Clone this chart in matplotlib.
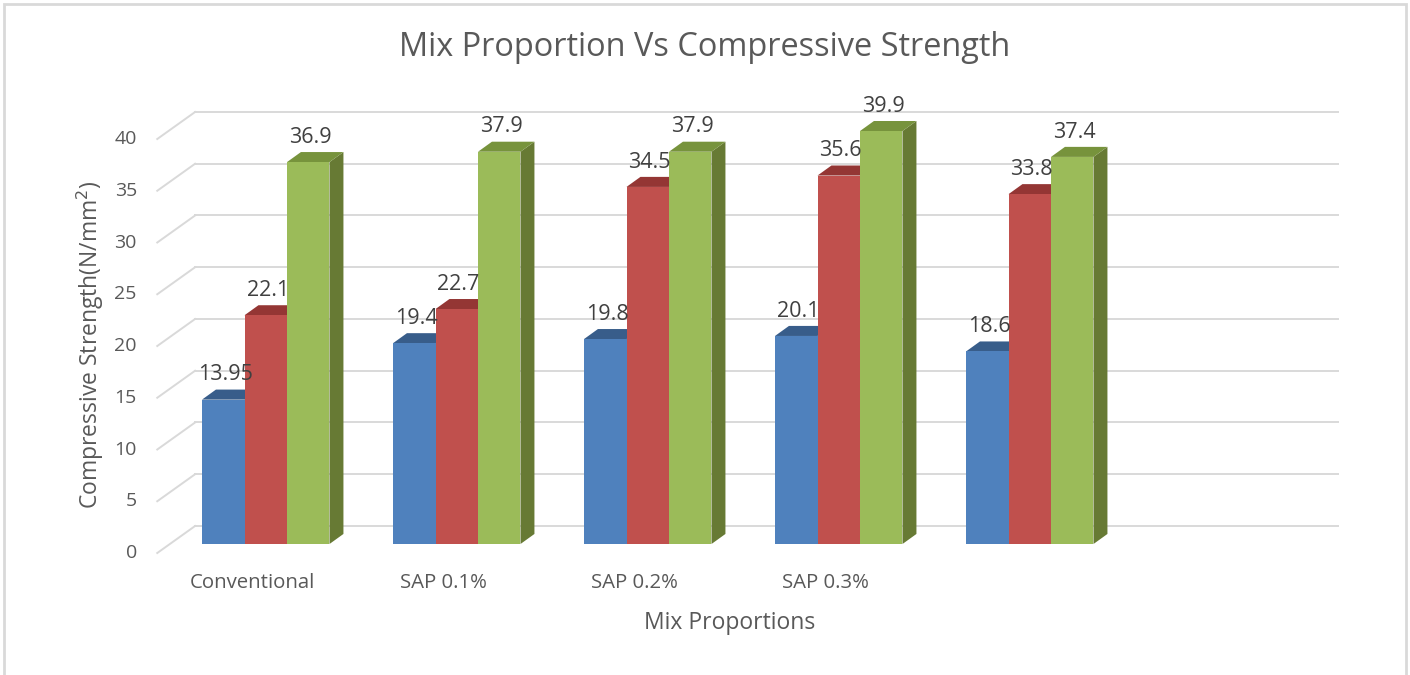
import numpy as np
import matplotlib
matplotlib.use('Agg')
import matplotlib.pyplot as plt
from matplotlib.patches import Polygon, Rectangle

plt.rcParams['font.family'] = ['Open Sans', 'DejaVu Sans']

categories = ['Conventional', 'SAP 0.1%', 'SAP 0.2%', 'SAP 0.3%', '', '']
series_a = [13.95, 19.4, 19.8, 20.1, 18.6]
series_b = [22.1, 22.7, 34.5, 35.6, 33.8]
series_c = [36.9, 37.9, 37.9, 39.9, 37.4]
labels_a = ['13.95', '19.4', '19.8', '20.1', '18.6']
labels_b = ['22.1', '22.7', '34.5', '35.6', '33.8']
labels_c = ['36.9', '37.9', '37.9', '39.9', '37.4']
yticks = [0, 5, 10, 15, 20, 25, 30, 35, 40]

front_cols = ['#4F81BD', '#C0504D', '#9BBB59']
top_cols = ['#385D8A', '#943634', '#77933C']
side_cols = ['#3A5F8B', '#953735', '#677A34']
txt = '#595959'
grid = '#D9D9D9'

W, H = 1410, 675
fig = plt.figure(figsize=(W / 100, H / 100), dpi=100)
ax = fig.add_axes([170.25 / W, 131 / H, 1146 / W, 414 / H])
ax.set_xlim(-0.5, 5.5)
ax.set_ylim(0, 40)
ax.axis('off')

# 3d offsets in data units
bw = 0.2225          # bar width (slots)
ddx, ddy = 0.073, 0.97   # bar depth
bk_dx, bk_dy = 0.13, 1.74   # back wall
fr_dx, fr_dy = -0.068, -0.87  # front floor edge

n = len(categories)
x0, x1 = -0.5, n - 0.5

# gridlines: back wall + left diagonal
for v in yticks:
    ax.plot([x0 + bk_dx, x1 + bk_dx - 0.015], [v + bk_dy, v + bk_dy], color=grid, lw=1.4, clip_on=False, zorder=1)
    ax.plot([x0 + fr_dx, x0 + bk_dx], [v + fr_dy, v + bk_dy], color=grid, lw=1.4, clip_on=False, zorder=1)
    ax.text(x0 - 0.175, v + fr_dy, str(v), ha='right', va='center', fontsize=14, color=txt)

z = 2
for i in range(len(series_a)):
    vals = [series_a[i], series_b[i], series_c[i]]
    labs = [labels_a[i], labels_b[i], labels_c[i]]
    for j in range(3):
        left = i - 1.5 * bw + j * bw
        right = left + bw
        v = vals[j]
        side = [(right, 0), (right + ddx, ddy), (right + ddx, v + ddy), (right, v)]
        top = [(left, v), (right, v), (right + ddx, v + ddy), (left + ddx, v + ddy)]
        ax.add_patch(Polygon(side, closed=True, facecolor=side_cols[j], edgecolor='none', zorder=z, clip_on=False))
        ax.add_patch(Polygon(top, closed=True, facecolor=top_cols[j], edgecolor='none', zorder=z, clip_on=False))
        ax.add_patch(Rectangle((left, 0), bw, v, facecolor=front_cols[j], edgecolor='none', zorder=z + 1, clip_on=False))
        z += 2
        ax.text((left + right) / 2 + 0.01, v + 2.4, labs[j], ha='center', va='center',
                fontsize=15.5, color='#404040', zorder=100, clip_on=False)

for i, c in enumerate(categories):
    ax.text(i - 0.07, -3.77, c, ha='center', va='center', fontsize=14.7, color=txt)

ax.text(2.43, -7.6, 'Mix Proportions', ha='center', va='center', fontsize=16.5, color=txt)
fig.text(90 / W, 1 - 345 / H, 'Compressive Strength(N/mm$^2$)', rotation=90, ha='center', va='center',
         fontsize=16.5, color=txt)
fig.text(705 / W, 1 - 48 / H, 'Mix Proportion Vs Compressive Strength', ha='center', va='center',
         fontsize=23.4, color=txt)

fig.patches.append(Rectangle((4 / W, -0.01), 1402 / W, (671 / H) + 0.01, transform=fig.transFigure,
                             facecolor='none', edgecolor=grid, lw=2))

fig.savefig('out.png', dpi=100)
